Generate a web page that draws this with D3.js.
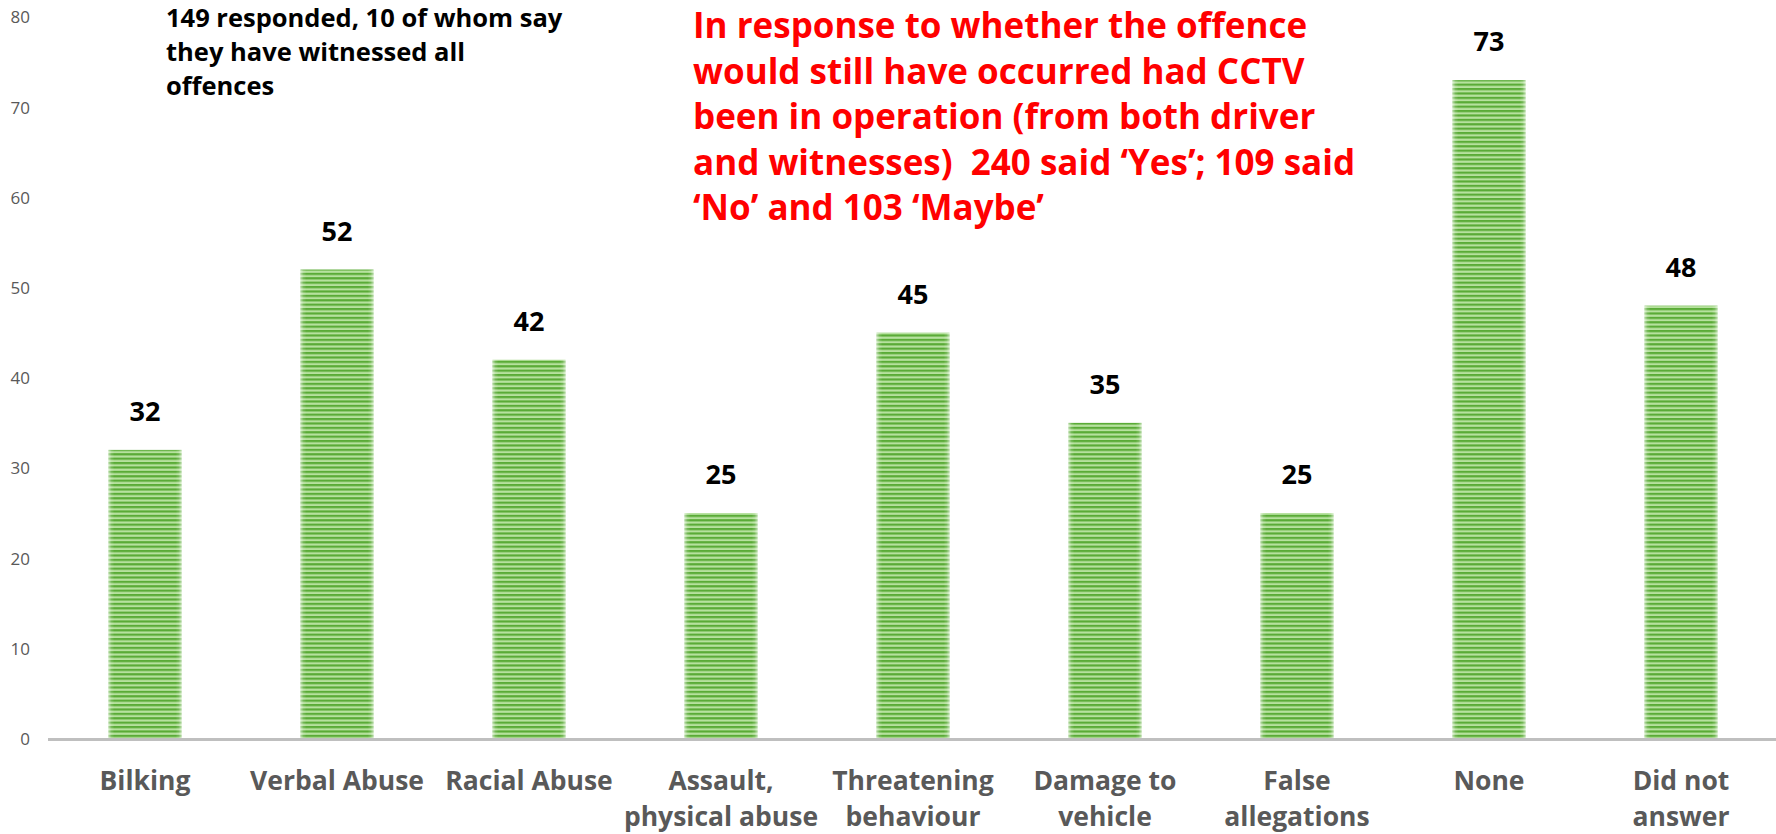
<!DOCTYPE html>
<html>
<head>
<meta charset="utf-8">
<script src="https://cdn.jsdelivr.net/npm/d3@7"></script>
<style>
  html, body { margin: 0; padding: 0; background: #fff; }
  svg { display: block; }
  text { font-family: "Open Sans", "Noto Sans", sans-serif; white-space: pre; }
</style>
</head>
<body>
<svg id="chart" width="1776" height="834"></svg>
<script>
const categories = [
  ["Bilking"],
  ["Verbal Abuse"],
  ["Racial Abuse"],
  ["Assault,", "physical abuse"],
  ["Threatening", "behaviour"],
  ["Damage to", "vehicle"],
  ["False", "allegations"],
  ["None"],
  ["Did not", "answer"]
];
const values = [32, 52, 42, 25, 45, 35, 25, 73, 48];
const yTicks = [0, 10, 20, 30, 40, 50, 60, 70, 80];
const noteLines = [
  "149 responded, 10 of whom say",
  "they have witnessed all",
  "offences"
];
const redLines = [
  "In response to whether the offence",
  "would still have occurred had CCTV",
  "been in operation (from both driver",
  "and witnesses)  240 said \u2018Yes\u2019; 109 said",
  "\u2018No\u2019 and 103 \u2018Maybe\u2019"
];

const svg = d3.select("#chart");
const W = 1776, H = 834;

const keys = categories.map((c, i) => i);
const x = d3.scaleBand().domain(keys).range([49, 1777]).paddingInner(0.62).paddingOuter(0.31);
const y = d3.scaleLinear().domain([0, 80]).range([738.5, 17]);

// stripe pattern
const defs = svg.append("defs");
const pat = defs.append("pattern")
  .attr("id", "stripes").attr("patternUnits", "userSpaceOnUse")
  .attr("width", 10).attr("height", 4.4);
pat.append("rect").attr("width", 10).attr("height", 4.4).attr("fill", "#b6e19e");
pat.append("rect").attr("y", 0).attr("width", 10).attr("height", 2.2).attr("fill", "#5aab37");

const edge = defs.append("linearGradient").attr("id", "edge").attr("x1", 0).attr("x2", 1).attr("y1", 0).attr("y2", 0);
[[0, 0.55], [0.04, 0.15], [0.08, 0], [0.92, 0], [0.96, 0.15], [1, 0.55]].forEach(([o, a]) => {
  edge.append("stop").attr("offset", o).attr("stop-color", "#ffffff").attr("stop-opacity", a);
});

// y tick labels
const yAxis = d3.axisLeft(y).tickValues(yTicks).tickSize(0).tickPadding(0);
const yg = svg.append("g").attr("transform", "translate(30,0)").call(yAxis);
yg.select(".domain").remove();
yg.selectAll("text")
  .attr("fill", "#595959")
  .style("font-family", "'Open Sans', sans-serif")
  .style("font-size", "17px")
  .attr("dy", "0.35em");

// bars
const bars = svg.append("g");
bars.selectAll("rect.bar").data(values).join("rect")
  .attr("class", "bar")
  .attr("x", (d, i) => x(i))
  .attr("width", x.bandwidth())
  .attr("y", d => y(d))
  .attr("height", d => y(0) - y(d))
  .attr("fill", "url(#stripes)");
bars.selectAll("rect.edge").data(values).join("rect")
  .attr("class", "edge")
  .attr("x", (d, i) => x(i))
  .attr("width", x.bandwidth())
  .attr("y", d => y(d))
  .attr("height", d => y(0) - y(d))
  .attr("fill", "url(#edge)");

// x axis line
svg.append("line")
  .attr("x1", 48).attr("x2", W)
  .attr("y1", y(0) + 1).attr("y2", y(0) + 1)
  .attr("stroke", "#bfbfbf").attr("stroke-width", 3);

// value labels
svg.append("g").selectAll("text").data(values).join("text")
  .attr("x", (d, i) => x(i) + x.bandwidth() / 2)
  .attr("y", d => y(d) - 29)
  .attr("text-anchor", "middle")
  .attr("fill", "#000")
  .style("font-weight", 700)
  .style("font-size", "27px")
  .text(d => d);

// category labels
const xl = svg.append("g").selectAll("text").data(categories).join("text")
  .attr("x", (d, i) => x(i) + x.bandwidth() / 2)
  .attr("y", 790)
  .attr("text-anchor", "middle")
  .attr("fill", "#595959")
  .style("font-weight", 700)
  .style("font-size", "26.5px");
xl.selectAll("tspan").data(d => d).join("tspan")
  .attr("x", function () { return d3.select(this.parentNode).attr("x"); })
  .attr("dy", (d, j) => j === 0 ? 0 : 36)
  .text(d => d);

// note text
svg.append("g").selectAll("text").data(noteLines).join("text")
  .attr("x", 166)
  .attr("y", (d, i) => 27 + i * 34)
  .attr("fill", "#000")
  .style("font-weight", 700)
  .style("font-size", "25.5px")
  .text(d => d);

// red text
svg.append("g").selectAll("text").data(redLines).join("text")
  .attr("x", 693)
  .attr("y", (d, i) => 38 + i * 45.5)
  .attr("fill", "#ff0000")
  .style("font-weight", 700)
  .style("font-size", "35px")
  .text(d => d);
</script>
</body>
</html>
